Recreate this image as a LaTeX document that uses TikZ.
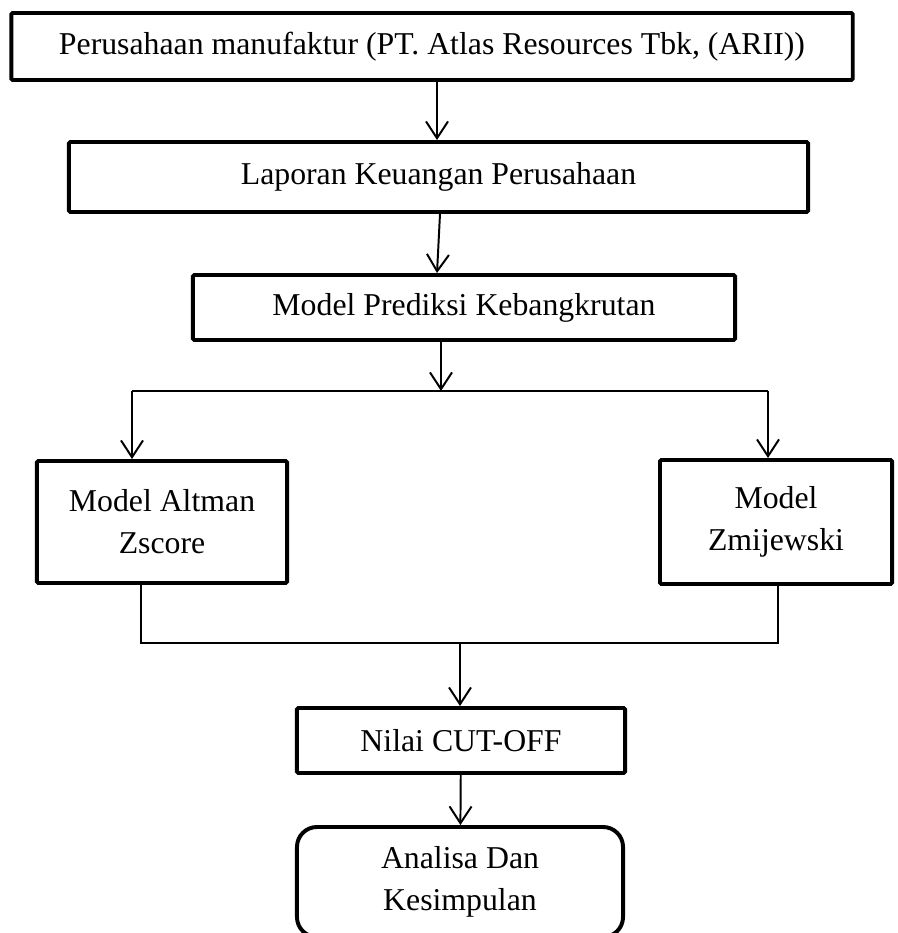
\documentclass[tikz,border=0pt]{standalone}
\usepackage{fontspec}
\setmainfont{Liberation Serif}
\usepackage{tikz}
\usetikzlibrary{arrows.meta,positioning,calc}

\begin{document}
\begin{tikzpicture}[
    x=0.025cm, y=-0.025cm,
    font=\fontsize{22.6pt}{30pt}\selectfont,
    stage/.style={rectangle, draw=black, line width=2.8pt, fill=white, align=center, inner sep=0pt, rounded corners=1pt},
    ending/.style={stage, rounded corners=0.5cm},
    flow/.style={-{Straight Barb[length=0.42cm, width=0.55cm, line width=1.4pt]}, line width=1.4pt},
    branch/.style={line width=1.1pt}
]

\useasboundingbox (0,0) rectangle (898,933);

% Top boxes
\node[stage, minimum width=21.03cm, minimum height=1.675cm] (perusahaan) at (432, 46.5) {Perusahaan manufaktur (PT. Atlas Resources Tbk, (ARII))};
\node[stage, minimum width=18.475cm, minimum height=1.75cm] (laporan) at (438.5, 177) {Laporan Keuangan Perusahaan};
\node[stage, minimum width=13.55cm, minimum height=1.625cm] (prediksi) at (464, 307.5) {Model Prediksi Kebangkrutan};

% Models
\node[stage, minimum width=6.25cm, minimum height=3.05cm] (altman) at (162, 522) {Model Altman\\Zscore};
\node[stage, minimum width=5.8cm, minimum height=3.1cm] (zmijewski) at (776, 522) {Model\\Zmijewski};

% Bottom boxes
\node[stage, minimum width=8.2cm, minimum height=1.625cm] (cutoff) at (461, 740.5) {Nilai CUT-OFF};
\node[ending, minimum width=8.15cm, minimum height=2.75cm] (analisa) at (460, 882) {Analisa Dan\\Kesimpulan};

% Branch points
\coordinate (split) at (441, 391);
\coordinate (splitL) at (132, 391);
\coordinate (splitR) at (768, 391);
\coordinate (join) at (460, 643);
\coordinate (joinL) at (141, 643);
\coordinate (joinR) at (778, 643);

% Connections
\draw[flow] (perusahaan.south -| 437,0) -- (laporan.north -| 437,0);
\draw[flow] (laporan.south -| 440,0) -- (prediksi.north -| 437,0);
\draw[flow] (split |- prediksi.south) -- (split);

\draw[branch] (splitL) -- (splitR);
\draw[flow] (splitL) -- (splitL |- altman.north);
\draw[flow] (splitR) -- (splitR |- zmijewski.north);

\draw[branch] (joinL |- altman.south) -- (joinL) -- (joinR) -- (joinR |- zmijewski.south);
\draw[flow] (join) -- (join |- cutoff.north);

\draw[flow] (cutoff) -- (analisa);

\end{tikzpicture}
\end{document}
